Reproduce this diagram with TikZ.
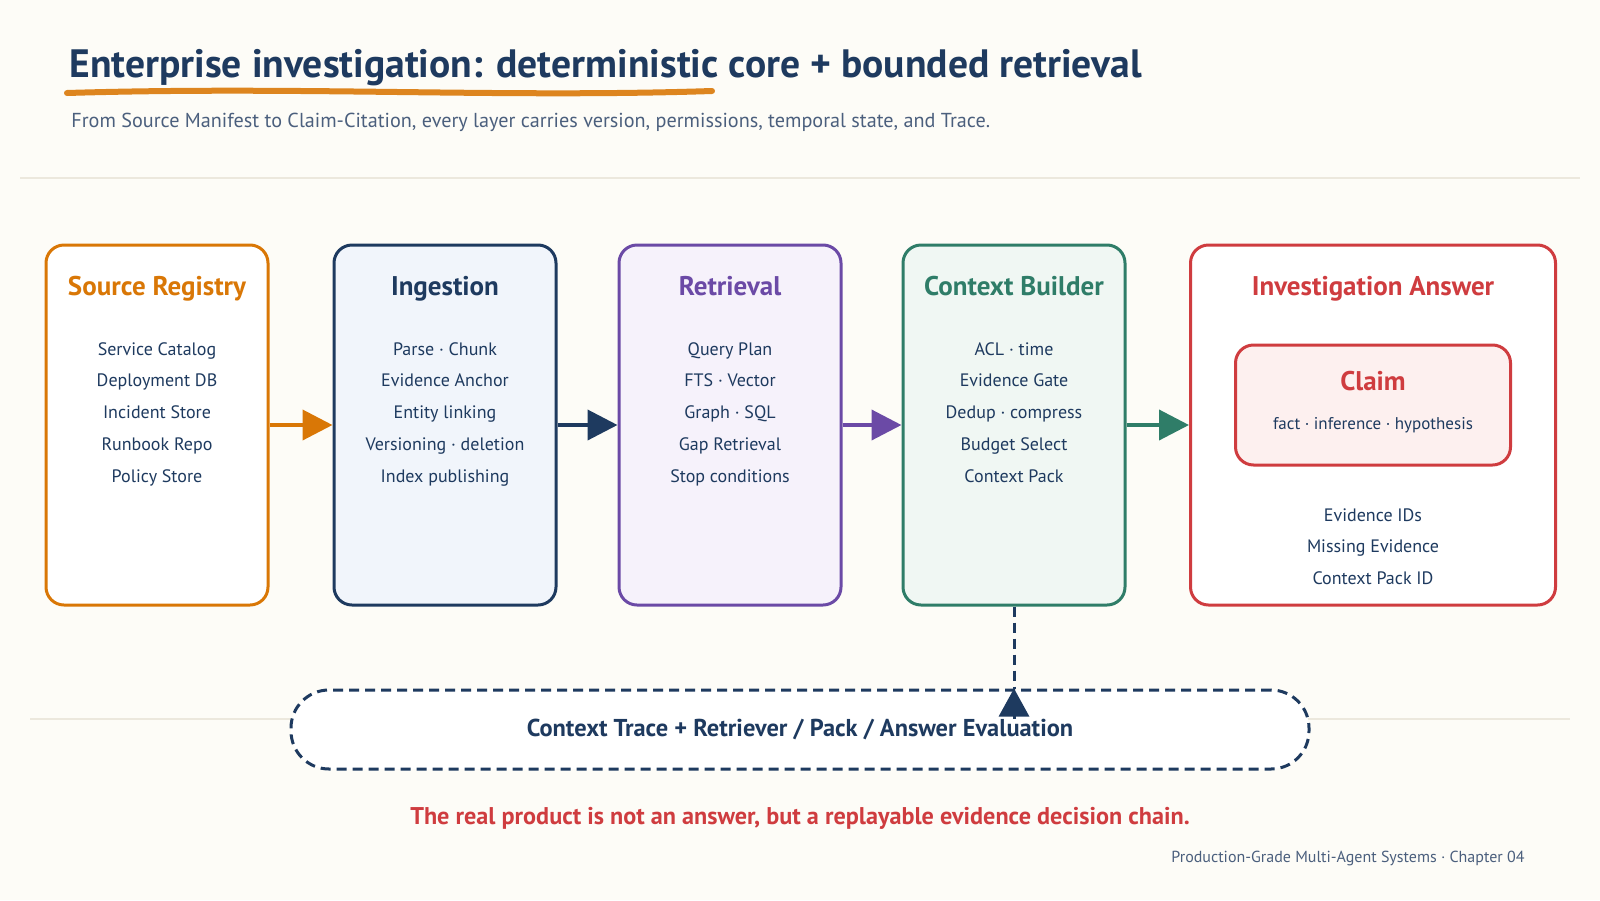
\documentclass[tikz,border=0pt]{standalone}
\usepackage{fontspec}
\setmainfont{PT Sans}
\usepackage{xcolor}
\usetikzlibrary{arrows.meta, positioning, calc}

\definecolor{paper}{HTML}{FDFCF7}
\definecolor{navy}{HTML}{1E3A5F}
\definecolor{slate}{HTML}{4B5F7D}
\definecolor{amber}{HTML}{D97706}
\definecolor{violet}{HTML}{6B4AA6}
\definecolor{teal}{HTML}{2F7D68}
\definecolor{crimson}{HTML}{CF3C3F}
\definecolor{rule}{HTML}{ECE8DD}
\definecolor{ingfill}{HTML}{F1F5FB}
\definecolor{retfill}{HTML}{F6F2FB}
\definecolor{ctxfill}{HTML}{F0F7F3}
\definecolor{claimfill}{HTML}{FDF0EF}

\begin{document}
\begin{tikzpicture}[x=0.5pt, y=-0.5pt,
    stage/.style={draw, fill=white, rounded corners=9pt, line width=1.5pt,
        minimum width=111pt, minimum height=180pt, inner sep=0pt},
    stagetitle/.style={anchor=base, font=\bfseries\fontsize{13.5}{16}\selectfont},
    item/.style={anchor=base, text=navy, font=\fontsize{9}{11}\selectfont},
    flow/.style={line width=2pt, -{Triangle[length=15pt, width=15pt]}},
    tracebox/.style={draw=navy, fill=white, line width=1.5pt, dash pattern=on 5pt off 3pt,
        rounded corners=19pt, minimum width=509pt, minimum height=39.5pt,
        text=navy, font=\bfseries\fontsize{12.2}{14}\selectfont}]
    \fill[paper] (0,0) rectangle (1600,900);
    \useasboundingbox (0,0) rectangle (1600,900);

    \node[anchor=base west, inner sep=0pt, text=navy, font=\bfseries\fontsize{19.8}{23}\selectfont] (title) at (69,77)
        {Enterprise investigation: deterministic core + bounded retrieval};
    \draw[amber!90, line width=3pt, line cap=round] (67,93) .. controls (300,86) and (500,98) .. (712,91);
    \node[anchor=base west, inner sep=0pt, text=slate, font=\fontsize{10.1}{12}\selectfont] (subtitle) at (71,127)
        {From Source Manifest to Claim-Citation, every layer carries version, permissions, temporal state, and Trace.};
    \draw[rule, line width=1pt] (20,178) -- (1580,178);
    \draw[rule, line width=1pt] (30,719) -- (1570,719);

    \node[stage, draw=amber] (src) at (157,425) {};
    \node[stage, draw=navy, fill=ingfill] (ing) at (445,425) {};
    \node[stage, draw=violet, fill=retfill] (ret) at (730,425) {};
    \node[stage, draw=teal, fill=ctxfill] (ctx) at (1014,425) {};
    \node[stage, draw=crimson, minimum width=182.5pt] (ans) at (1373,425) {};

    \node[stagetitle, text=amber] (srct) at ($(src.north)+(0,52)$) {Source Registry};
    \node[stagetitle, text=navy] (ingt) at ($(ing.north)+(0,52)$) {Ingestion};
    \node[stagetitle, text=violet] (rett) at ($(ret.north)+(0,52)$) {Retrieval};
    \node[stagetitle, text=teal] (ctxt) at ($(ctx.north)+(0,52)$) {Context Builder};
    \node[stagetitle, text=crimson] (anst) at ($(ans.north)+(0,52)$) {Investigation Answer};

    \foreach \t [count=\i] in {Service Catalog, Deployment DB, Incident Store, Runbook Repo, Policy Store}
        \node[item] (src\i) at ($(src.north)+(0,80+31.7*\i)$) {\t};
    \foreach \t [count=\i] in {Parse · Chunk, Evidence Anchor, Entity linking, Versioning · deletion, Index publishing}
        \node[item] (ing\i) at ($(ing.north)+(0,80+31.7*\i)$) {\t};
    \foreach \t [count=\i] in {Query Plan, FTS · Vector, Graph · SQL, Gap Retrieval, Stop conditions}
        \node[item] (ret\i) at ($(ret.north)+(0,80+31.7*\i)$) {\t};
    \foreach \t [count=\i] in {ACL · time, Evidence Gate, Dedup · compress, Budget Select, Context Pack}
        \node[item] (ctx\i) at ($(ctx.north)+(0,80+31.7*\i)$) {\t};

    \node[draw=crimson, fill=claimfill, rounded corners=9pt, line width=1.5pt,
        minimum width=137.5pt, minimum height=60pt] (claim) at (1373,405) {};
    \node[stagetitle, text=crimson] (claimt) at ($(claim.north)+(0,47)$) {Claim};
    \node[item, font=\fontsize{8.5}{10}\selectfont] (claims) at ($(claim.north)+(0,86)$) {fact · inference · hypothesis};
    \foreach \t [count=\i] in {Evidence IDs, Missing Evidence, Context Pack ID}
        \node[item] (ans\i) at ($(ans.north)+(0,246+31.7*\i)$) {\t};

    \draw[flow, amber] (src.east) -- (ing.west);
    \draw[flow, navy] (ing.east) -- (ret.west);
    \draw[flow, violet] (ret.east) -- (ctx.west);
    \draw[flow, teal] (ctx.east) -- (ans.west);

    \node[tracebox] (trace) at (800,729.5) {Context Trace + Retriever / Pack / Answer Evaluation};
    \coordinate (tip) at (ctx.south |- trace.north);
    \draw[navy, line width=1.5pt, dash pattern=on 5pt off 3pt] (ctx.south) -- (tip);
    \draw[navy, line width=1.5pt, -{Triangle[length=14pt, width=15pt]}] ($(tip)+(0,30)$) -- (tip);

    \node[anchor=base, text=crimson, font=\bfseries\fontsize{12.1}{14}\selectfont] (moral) at (800,824)
        {The real product is not an answer, but a replayable evidence decision chain.};
    \node[anchor=base east, inner sep=0pt, text=slate, font=\fontsize{8}{9}\selectfont] (footer) at (1525,862)
        {Production-Grade Multi-Agent Systems · Chapter 04};
\end{tikzpicture}
\end{document}
